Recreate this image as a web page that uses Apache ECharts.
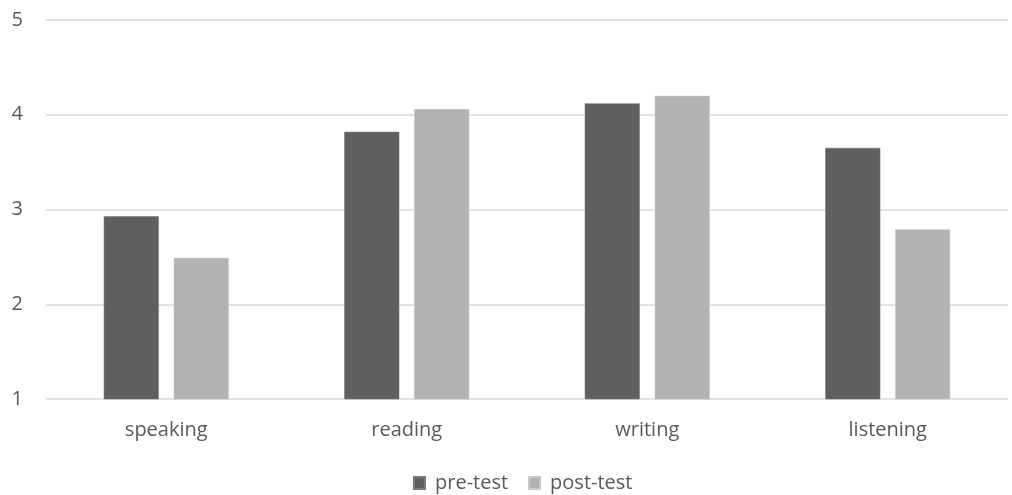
<!DOCTYPE html>
<html>
<head>
<meta charset="utf-8">
<script src="https://cdn.jsdelivr.net/npm/echarts@6/dist/echarts.min.js"></script>
<style>
  html, body {margin: 0; padding: 0; background: #fff;}
  #chart {width: 1012px; height: 495px;}
</style>
</head>
<body>
<div id="chart"></div>
<script>
/*数据*/
var categories = ['speaking', 'reading', 'writing', 'listening'];
var preTest = [2.93, 3.82, 4.12, 3.65];
var postTest = [2.49, 4.06, 4.20, 2.79];

var textColor = '#595959';
var font = 'Open Sans';

var chart = echarts.init(document.getElementById('chart'));
var option = {
  animation: false,
  textStyle: {fontFamily: font},
  color: ['#5f5f5f', '#b2b2b2'],
  grid: {left: 46, right: 4, top: 20, bottom: 96},
  legend: {
    data: ['pre-test', 'post-test'],
    top: 468,
    left: 408,
    itemWidth: 11,
    itemHeight: 12,
    itemGap: 20,
    icon: 'rect',
    textStyle: {color: textColor, fontSize: 20, fontFamily: font, padding: [0, 0, 0, 5]}
  },
  xAxis: {
    type: 'category',
    data: categories,
    axisLine: {show: false},
    axisTick: {show: false},
    axisLabel: {color: textColor, fontSize: 20, margin: 21}
  },
  yAxis: {
    type: 'value',
    min: 1,
    max: 5,
    interval: 1,
    axisLine: {show: false},
    axisTick: {show: false},
    axisLabel: {color: textColor, fontSize: 20, margin: 23},
    splitLine: {lineStyle: {color: '#d9d9d9', width: 1.5}}
  },
  series: [
    {
      name: 'pre-test',
      type: 'bar',
      data: preTest,
      barWidth: '22.9%',
      barGap: '27%',
      itemStyle: {borderColor: '#7a7a7a', borderWidth: 0.6}
    },
    {
      name: 'post-test',
      type: 'bar',
      data: postTest,
      barWidth: '22.9%',
      itemStyle: {borderColor: '#c8c8c8', borderWidth: 0.6}
    }
  ]
};
chart.setOption(option);
</script>
</body>
</html>
